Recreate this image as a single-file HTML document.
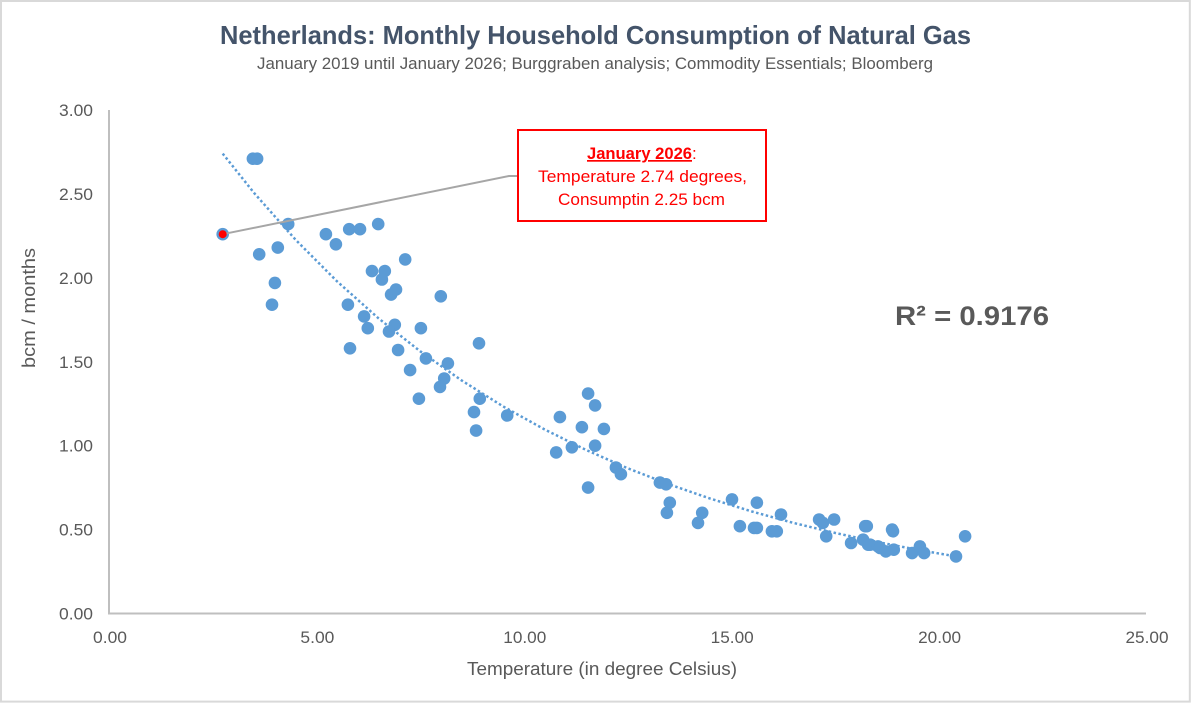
<!DOCTYPE html>
<html lang="en">
<head>
<meta charset="utf-8">
<title>Netherlands: Monthly Household Consumption of Natural Gas</title>
<style>
  html, body { margin: 0; padding: 0; background: #fff; }
  #chart { display: block; width: 1191px; height: 703px; font-family: "Liberation Sans", Arial, sans-serif; }
</style>
</head>
<body>
<svg id="chart" xmlns="http://www.w3.org/2000/svg" width="1191" height="703" viewBox="0 0 1191 703">
  <rect x="1" y="1" width="1188.8" height="700.6" fill="#fff" stroke="#d9d9d9" stroke-width="2"/>
  <text x="220" y="44" font-size="26" font-weight="bold" fill="#44546a" textLength="751" lengthAdjust="spacingAndGlyphs">Netherlands: Monthly Household Consumption of Natural Gas</text>
  <text x="257" y="69" font-size="17" fill="#595959" textLength="676" lengthAdjust="spacingAndGlyphs">January 2019 until January 2026; Burggraben analysis; Commodity Essentials; Bloomberg</text>

  <g id="axes"></g>
  <text x="602" y="675" font-size="18" fill="#595959" text-anchor="middle" textLength="270" lengthAdjust="spacingAndGlyphs">Temperature (in degree Celsius)</text>
  <text transform="translate(35 308) rotate(-90)" font-size="18" fill="#595959" text-anchor="middle" textLength="120" lengthAdjust="spacingAndGlyphs">bcm / months</text>

  <polyline id="trendline" fill="none" stroke="#5b9bd5" stroke-width="2.5" stroke-dasharray="2.5 2.5"></polyline>
  <g id="points"></g>

  <polyline id="leader" fill="none" stroke="#a6a6a6" stroke-width="2"></polyline>
  <g id="highlight"></g>

  <g>
    <rect x="518" y="130" width="248" height="91" fill="#fff" stroke="#ff0000" stroke-width="2"/>
    <text x="587" y="159" font-size="17" font-weight="bold" fill="#ff0000" text-decoration="underline" textLength="105" lengthAdjust="spacingAndGlyphs">January 2026</text>
    <text x="692" y="159" font-size="17" fill="#ff0000">:</text>
    <text x="538" y="182" font-size="17" fill="#ff0000" textLength="209" lengthAdjust="spacingAndGlyphs">Temperature 2.74 degrees,</text>
    <text x="558" y="205" font-size="17" fill="#ff0000" textLength="167" lengthAdjust="spacingAndGlyphs">Consumptin 2.25 bcm</text>
  </g>

  <text x="895" y="325" font-size="27" font-weight="bold" fill="#595959" textLength="154" lengthAdjust="spacingAndGlyphs">R² = 0.9176</text>
</svg>

<script>
const xTicks = [0, 5, 10, 15, 20, 25];
const xTickLabels = ["0.00", "5.00", "10.00", "15.00", "20.00", "25.00"];
const yTicks = [0, 0.5, 1, 1.5, 2, 2.5, 3];
const yTickLabels = ["0.00", "0.50", "1.00", "1.50", "2.00", "2.50", "3.00"];

const temperature = [
  3.47, 3.57, 4.32, 5.23, 5.47, 5.79, 6.05, 6.49, 6.34, 6.65,
  6.58, 7.14, 4.07, 3.62, 4.00, 3.93, 6.80, 6.92, 8.00, 5.76,
  6.15, 6.24, 6.89, 6.75, 7.52, 5.81, 6.97, 8.92, 7.64, 8.17,
  7.26, 8.08, 7.98, 7.47, 8.94, 8.80, 9.60, 8.85, 11.55, 11.72,
  10.87, 11.40, 11.93, 11.72, 11.16, 10.78, 12.22, 12.34, 11.55, 13.28,
  13.43, 13.52, 13.45, 14.30, 14.20, 15.02, 15.62, 15.21, 15.55, 15.62,
  15.98, 16.10, 16.20, 17.12, 17.21, 17.48, 17.29, 17.89, 18.18, 18.23,
  18.27, 18.30, 18.35, 18.54, 18.59, 18.73, 18.92, 18.88, 18.90, 19.36,
  19.55, 19.65, 20.42, 20.64, 2.74
];
const consumption = [
  2.71, 2.71, 2.32, 2.26, 2.20, 2.29, 2.29, 2.32, 2.04, 2.04,
  1.99, 2.11, 2.18, 2.14, 1.97, 1.84, 1.90, 1.93, 1.89, 1.84,
  1.77, 1.70, 1.72, 1.68, 1.70, 1.58, 1.57, 1.61, 1.52, 1.49,
  1.45, 1.40, 1.35, 1.28, 1.28, 1.20, 1.18, 1.09, 1.31, 1.24,
  1.17, 1.11, 1.10, 1.00, 0.99, 0.96, 0.87, 0.83, 0.75, 0.78,
  0.77, 0.66, 0.60, 0.60, 0.54, 0.68, 0.66, 0.52, 0.51, 0.51,
  0.49, 0.49, 0.59, 0.56, 0.54, 0.56, 0.46, 0.42, 0.44, 0.52,
  0.52, 0.41, 0.41, 0.40, 0.39, 0.37, 0.38, 0.50, 0.49, 0.36,
  0.40, 0.36, 0.34, 0.46, 2.26
];

const trendTemperature = [2.74, 3.5, 4.5, 5.5, 6.5, 7.5, 8.5, 9.5, 10.5, 11.5, 12.5, 13.5, 14.5, 15.5, 16.5, 17.5, 18.5, 19.5, 20.42];
const trendConsumption = [2.74, 2.505, 2.226, 1.979, 1.758, 1.563, 1.389, 1.234, 1.097, 0.975, 0.866, 0.770, 0.684, 0.608, 0.540, 0.480, 0.427, 0.379, 0.34];

const highlightTemperature = [2.74];
const highlightConsumption = [2.26];

const plotLeft = 109, plotRight = 1146, plotTop = 110, plotBottom = 613.5;
const xMax = 25, yMax = 3;
function xScale(v) { return plotLeft + (v / xMax) * (plotRight - plotLeft); }
function yScale(v) { return plotBottom - (v / yMax) * (plotBottom - plotTop); }

const NS = "http://www.w3.org/2000/svg";
function make(tag, attrs, parent) {
  const el = document.createElementNS(NS, tag);
  for (const k in attrs) el.setAttribute(k, attrs[k]);
  parent.appendChild(el);
  return el;
}

const axes = document.getElementById("axes");
const yAxisLine = make("line", { x1: plotLeft, x2: plotLeft, y1: plotTop, y2: plotBottom, stroke: "#bfbfbf", "stroke-width": 2 }, axes);


const xAxisLine = make("line", { x1: plotLeft - 1, x2: plotRight, y1: plotBottom, y2: plotBottom, stroke: "#bfbfbf", "stroke-width": 2 }, axes);



xTicks.forEach(function (t, i) {
  const label = xTickLabels[i];
  const el = make("text", { x: xScale(t) + 1, y: 643, "font-size": 17, fill: "#595959", "text-anchor": "middle", textLength: label.length === 5 ? 43 : 34, lengthAdjust: "spacingAndGlyphs" }, axes);
  
  
  el.textContent = label;
});
yTicks.forEach(function (t, i) {
  const el = make("text", { x: 93, y: yScale(t) + 6, "font-size": 17, fill: "#595959", "text-anchor": "end", textLength: 34, lengthAdjust: "spacingAndGlyphs" }, axes);
  
  
  el.textContent = yTickLabels[i];
});

document.getElementById("trendline").setAttribute("points",
  trendTemperature.map(function (v, i) { return xScale(v).toFixed(1) + "," + yScale(trendConsumption[i]).toFixed(1); }).join(" "));

const points = document.getElementById("points");
temperature.forEach(function (v, i) {
  const c = make("circle", { cx: xScale(v).toFixed(1), cy: yScale(consumption[i]).toFixed(1), r: 6.3, fill: "#5b9bd5" }, points);
  
  
});

const hx = xScale(highlightTemperature[0]);
const hy = yScale(highlightConsumption[0]);
document.getElementById("leader").setAttribute("points", hx.toFixed(1) + "," + hy.toFixed(1) + " 509,176 517,176");
const highlight = document.getElementById("highlight");
const redDot = make("circle", { cx: hx.toFixed(1), cy: hy.toFixed(1), r: 4, fill: "#ff0000" }, highlight);


</script>
</body>
</html>
